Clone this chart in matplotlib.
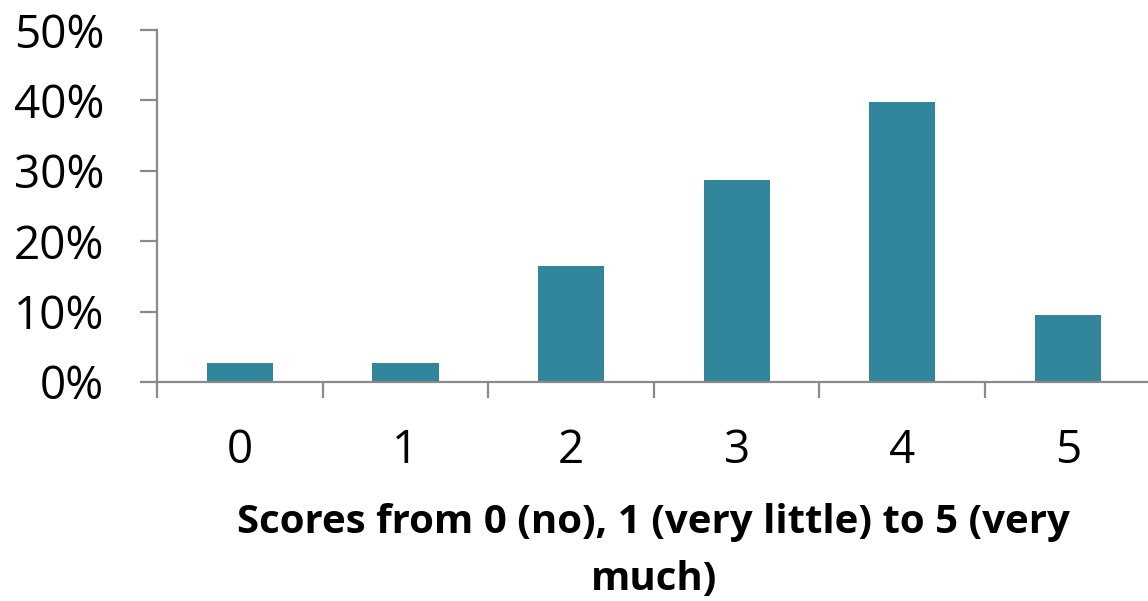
import matplotlib
matplotlib.use('Agg')
import matplotlib.pyplot as plt
import numpy as np

scores = ['0', '1', '2', '3', '4', '5']
shares = [2.7, 2.7, 16.5, 28.7, 39.8, 9.5]

bar_color = '#31869B'
axis_color = '#898989'

plt.rcParams['font.family'] = ['Open Sans', 'DejaVu Sans']

fig = plt.figure(figsize=(11.48, 6.01), dpi=100)
ax = fig.add_axes([0.1368, 0.3644, 0.8655, 0.5856])

x = np.arange(len(scores))
ax.bar(x, shares, width=0.4, color=bar_color, zorder=2)

ax.set_xlim(-0.5, 5.5)
ax.set_ylim(0, 50)
ax.set_yticks(np.arange(0, 51, 10))
ax.set_yticklabels([f'{v}%' for v in range(0, 51, 10)])

ax.set_xticks(x)
ax.set_xticklabels(scores)
ax.set_xticks(np.arange(-0.5, 6, 1), minor=True)

for side in ['top', 'right']:
    ax.spines[side].set_visible(False)
for side in ['left', 'bottom']:
    ax.spines[side].set_color(axis_color)
    ax.spines[side].set_linewidth(1.6)

ax.tick_params(axis='y', length=12, width=1.6, color=axis_color,
               labelsize=33, pad=26)
ax.tick_params(axis='x', which='major', length=0, labelsize=33, pad=33)
ax.tick_params(axis='x', which='minor', length=11.5, width=1.6,
               color=axis_color)

ax.set_xlabel('Scores from 0 (no), 1 (very little) to 5 (very\nmuch)',
              fontsize=29, fontweight='bold', linespacing=1.6,
              labelpad=21)

plt.savefig('out.png', dpi=100)
